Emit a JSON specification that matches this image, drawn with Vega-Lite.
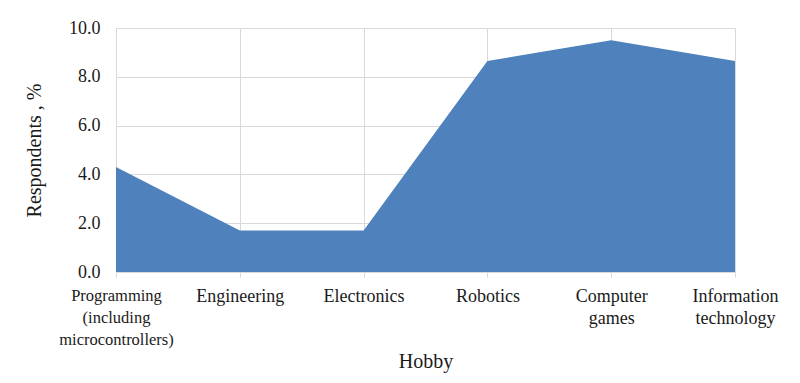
{
  "$schema": "https://vega.github.io/schema/vega-lite/v6.json",
  "autosize": {"type": "none"},
  "padding": {"left": 116, "top": 28, "right": 65, "bottom": 111},
  "width": 619,
  "height": 244,
  "background": "white",
  "config": {
    "view": {"stroke": null},
    "font": "Liberation Serif, serif",
    "axis": {"labelFont": "Liberation Serif, serif", "titleFont": "Liberation Serif, serif", "labelColor": "#1a1a1a", "titleColor": "#1a1a1a", "titleFontWeight": "normal"}
  },
  "data": {
    "values": [
      {"hobby": "Programming|(including|microcontrollers)", "pct": 4.3},
      {"hobby": "Engineering", "pct": 1.7},
      {"hobby": "Electronics", "pct": 1.7},
      {"hobby": "Robotics", "pct": 8.65},
      {"hobby": "Computer|games", "pct": 9.5},
      {"hobby": "Information|technology", "pct": 8.65}
    ]
  },
  "mark": {"type": "area", "color": "#4f81bd", "opacity": 1, "interpolate": "linear"},
  "encoding": {
    "x": {
      "field": "hobby",
      "type": "ordinal",
      "sort": null,
      "scale": {"type": "point", "padding": 0},
      "axis": {
        "title": "Hobby",
        "titleFontSize": 20,
        "titlePadding": 4,
        "labelFontSize": {"condition": {"test": "datum.index == 0", "value": 16.5}, "value": 18},
        "labelAngle": 0,
        "labelExpr": "split(datum.label, '|')",
        "labelLineHeight": 22,
        "labelPadding": 10,
        "labelBaseline": "top",
        "labelOverlap": false,
        "labelBound": false,
        "grid": true,
        "gridColor": "#d9d9d9",
        "gridWidth": 1,
        "domainColor": "#d9d9d9",
        "tickColor": "#d9d9d9",
        "tickSize": 5
      }
    },
    "y": {
      "field": "pct",
      "type": "quantitative",
      "scale": {"domain": [0, 10], "nice": false},
      "axis": {
        "title": "Respondents , %",
        "titleFontSize": 20,
        "titlePadding": 24,
        "labelFontSize": 18,
        "values": [0, 2, 4, 6, 8, 10],
        "format": ".1f",
        "labelPadding": 16,
        "ticks": false,
        "domain": false,
        "grid": true,
        "gridColor": "#d9d9d9",
        "gridWidth": 1
      }
    }
  }
}
